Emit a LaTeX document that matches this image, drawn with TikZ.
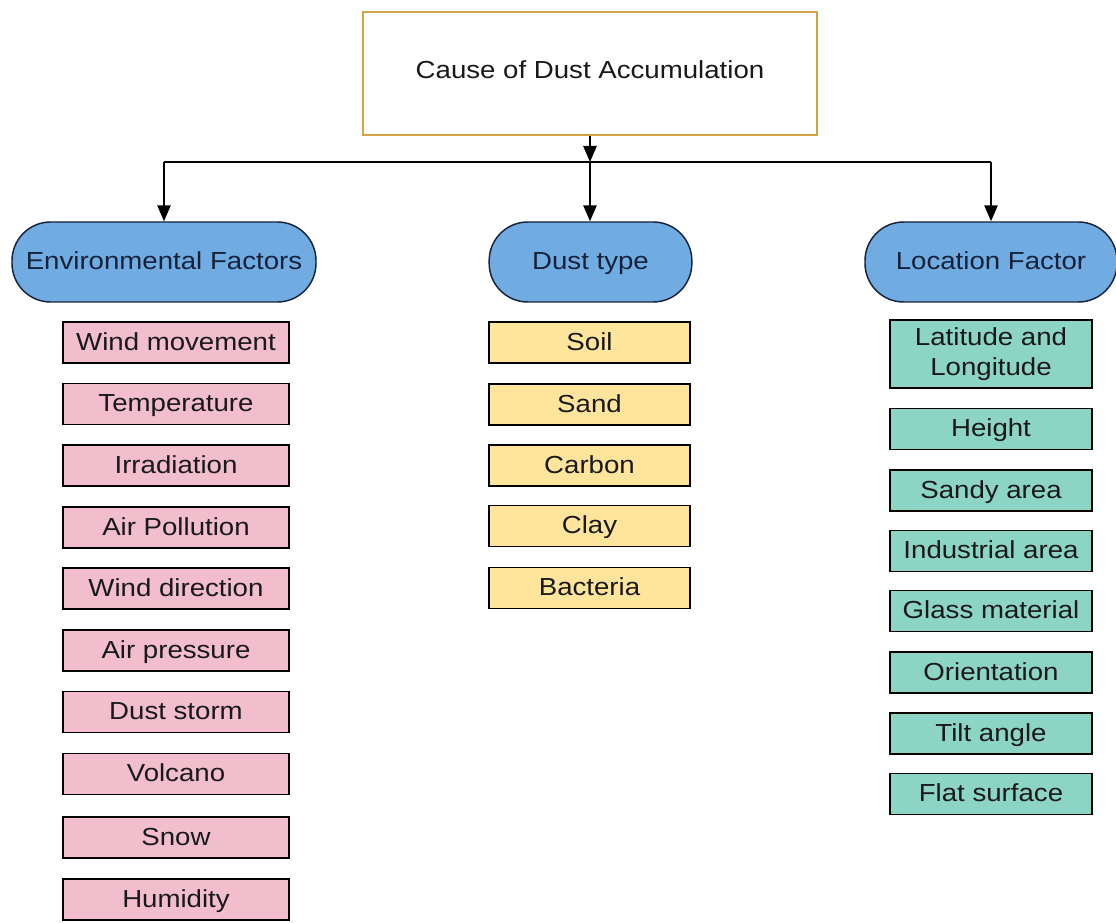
\documentclass[tikz,border=0pt]{standalone}
\usepackage{fontspec}
\setmainfont{Liberation Sans}[FakeStretch=1.12]
\usetikzlibrary{arrows.meta,positioning}
\definecolor{pinkf}{RGB}{242,190,206}
\definecolor{yelf}{RGB}{255,228,156}
\definecolor{grnf}{RGB}{140,212,196}
\definecolor{bluef}{RGB}{112,172,226}
\definecolor{orng}{RGB}{214,162,72}
\definecolor{navy}{RGB}{22,34,60}
\definecolor{txt}{RGB}{25,25,25}
\tikzset{
  lbl/.style={font=\fontsize{18.5}{22}\selectfont, text height=15pt, text depth=3.2pt},
  base/.style={draw=black, line width=1.3pt, inner sep=0pt, lbl, text=txt, align=center},
  envbox/.style={base, fill=pinkf, minimum width=169.5pt, minimum height=30.75pt},
  dustbox/.style={base, fill=yelf, minimum width=150.75pt, minimum height=30.75pt},
  locbox/.style={base, fill=grnf, minimum width=151.5pt, minimum height=30.75pt},
  cat/.style={draw=navy, line width=1.1pt, fill=bluef, rounded corners=29pt, minimum height=60pt, inner sep=0pt, lbl, text=navy},
  topbox/.style={draw=orng, line width=1.2pt, fill=white, minimum width=340.5pt, minimum height=92.25pt},
  conn/.style={line width=1.3pt, draw=black},
  arr/.style={conn, -{Triangle[length=12pt,width=10pt]}}
}
\begin{document}
\begin{tikzpicture}[x=0.75pt,y=-0.75pt]
\useasboundingbox (0,0) rectangle (1116,923);
\node[topbox] (top) at (590,73.5) {};
\node[lbl, text=txt] (toptext) at (590,71) {Cause of Dust Accumulation};
\node[cat, minimum width=228pt] (env) at (164,262) {Environmental Factors};
\node[cat, minimum width=152pt] (dust) at (590.5,262) {Dust type};
\node[cat, minimum width=189pt] (loc) at (991,262) {Location Factor};
\coordinate (jL) at (164,162);
\coordinate (jM) at (590,162);
\coordinate (jR) at (991,162);
\draw[arr] (top.south -| jM) -- (jM);
\draw[conn] (jL) -- (jR);
\draw[arr] (jL) -- (env.north);
\draw[arr] (jM) -- (jM |- dust.north);
\draw[arr] (jR) -- (loc.north);
% environmental
\node[envbox] (e1) at (176,342.5) {Wind movement};
\node[envbox] (e2) at (176,404) {Temperature};
\node[envbox] (e3) at (176,465.5) {Irradiation};
\node[envbox] (e4) at (176,527.5) {Air Pollution};
\node[envbox] (e5) at (176,588.5) {Wind direction};
\node[envbox] (e6) at (176,650.5) {Air pressure};
\node[envbox] (e7) at (176,712) {Dust storm};
\node[envbox] (e8) at (176,774) {Volcano};
\node[envbox] (e9) at (176,837.5) {Snow};
\node[envbox] (e10) at (176,899.5) {Humidity};
% dust
\node[dustbox] (d1) at (589.5,342.5) {Soil};
\node[dustbox] (d2) at (589.5,404.5) {Sand};
\node[dustbox] (d3) at (589.5,465.5) {Carbon};
\node[dustbox] (d4) at (589.5,526) {Clay};
\node[dustbox] (d5) at (589.5,588) {Bacteria};
% location
\node[locbox, minimum height=51pt, text height=, text depth=] (l1) at (991,354) {Latitude and\\Longitude};
\node[locbox] (l2) at (991,429) {Height};
\node[locbox] (l3) at (991,490.5) {Sandy area};
\node[locbox] (l4) at (991,551) {Industrial area};
\node[locbox] (l5) at (991,611) {Glass material};
\node[locbox] (l6) at (991,672.5) {Orientation};
\node[locbox] (l7) at (991,733.5) {Tilt angle};
\node[locbox] (l8) at (991,794) {Flat surface};
\end{tikzpicture}
\end{document}
